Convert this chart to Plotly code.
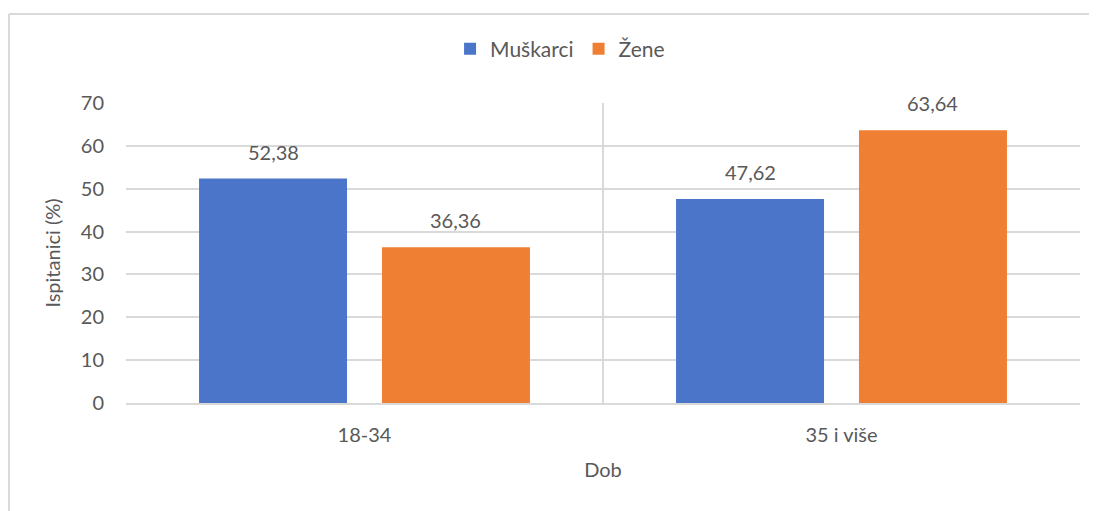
import plotly.graph_objects as go

categories = ["18-34", "35 i više"]
muskarci = [52.38, 47.62]
zene = [36.36, 63.64]
y_ticks = [0, 10, 20, 30, 40, 50, 60, 70]

FONT = "Lato, 'Open Sans', sans-serif"
TEXT = "#595959"
GRID = "#d9d9d9"

fig = go.Figure()
fig.add_trace(go.Bar(
    name="Muškarci", x=categories, y=muskarci,
    marker={"color": "#4a75c9", "line": {"width": 0}},
    hoverinfo="skip",
))
fig.add_trace(go.Bar(
    name="Žene", x=categories, y=zene,
    marker={"color": "#ef7f33", "line": {"width": 0}},
    hoverinfo="skip",
))

# data labels sit a little higher than plotly's own outside text
for series, shift in ((muskarci, -91), (zene, 91)):
    for cat, val in zip(categories, series):
        fig.add_annotation(
            x=cat, y=val, xref="x", yref="y",
            text=f"{val:.2f}".replace(".", ","),
            showarrow=False, yanchor="bottom", xshift=shift, yshift=13,
            font={"family": FONT, "size": 20, "color": TEXT},
        )

# outer chart frame (top and left edges visible)
fig.add_shape(type="line", xref="paper", yref="paper",
              x0=-0.1227, x1=1.03, y0=1.297, y1=1.297,
              line={"color": GRID, "width": 2})
fig.add_shape(type="line", xref="paper", yref="paper",
              x0=-0.1227, x1=-0.1227, y0=1.297, y1=-0.4,
              line={"color": GRID, "width": 2})

fig.update_layout(
    width=1089, height=503,
    margin={"l": 118, "r": 17, "t": 95, "b": 108},
    paper_bgcolor="white", plot_bgcolor="white",
    barmode="group", bargap=0.233, bargroupgap=0.191,
    font={"family": FONT, "size": 19, "color": TEXT},
    showlegend=True,
    legend={
        "orientation": "h", "x": 0.455, "xanchor": "center",
        "y": 1.18, "yanchor": "middle",
        "font": {"size": 21, "color": TEXT},
        "itemwidth": 30, "traceorder": "normal",
    },
    xaxis={
        "type": "category", "tickson": "boundaries",
        "showgrid": True, "gridcolor": GRID, "gridwidth": 1.5,
        "showline": True, "linecolor": GRID, "linewidth": 2,
        "ticks": "", "ticklen": 0, "ticklabelstandoff": 13,
        "title": {"text": "Dob", "standoff": 18, "font": {"size": 20}},
        "tickfont": {"size": 20},
    },
    yaxis={
        "range": [0, 70], "tickvals": y_ticks,
        "showgrid": True, "gridcolor": GRID, "gridwidth": 1.5,
        "showline": False, "zeroline": False,
        "ticks": "", "ticklabelstandoff": 21,
        "title": {"text": "Ispitanici (%)", "standoff": 14, "font": {"size": 20}},
        "tickfont": {"size": 20},
    },
)

fig.write_html("out.html")
